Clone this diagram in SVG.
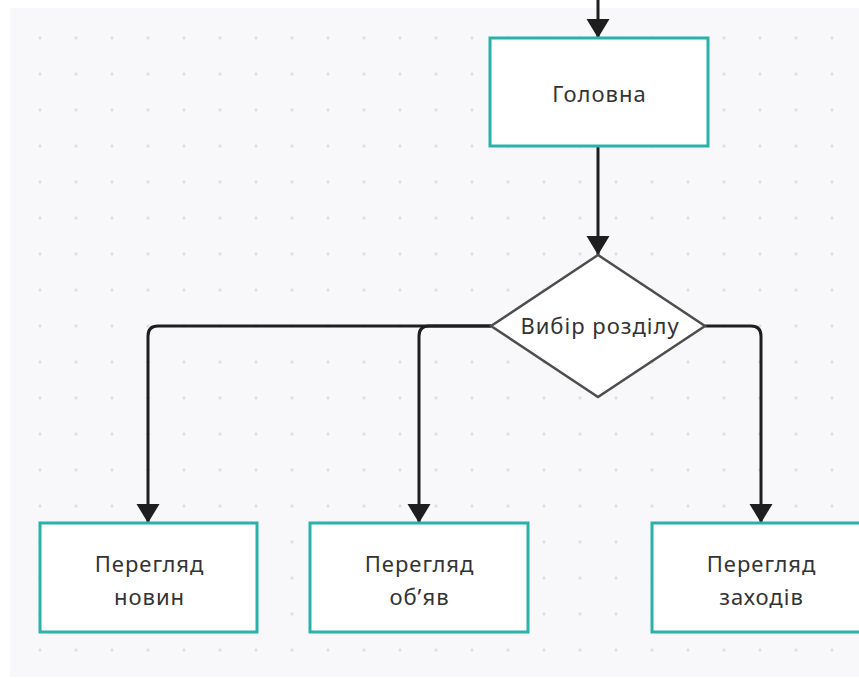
<svg xmlns="http://www.w3.org/2000/svg" width="859" height="678" viewBox="0 0 859 678">
<style>
.box{fill:#fff;stroke:#2bb1aa;stroke-width:3}
.dec{fill:#fff;stroke:#4d4d4d;stroke-width:2.5}
.lbl{font-family:"Noto Sans","Open Sans",sans-serif;font-size:22px;letter-spacing:1px;fill:#333;text-anchor:middle}
.con{fill:none;stroke:#1e1e1e;stroke-width:3}
</style>
<defs>
<pattern id="dots" x="22" y="20" width="36" height="36" patternUnits="userSpaceOnUse">
<circle cx="18" cy="18" r="1.7" fill="#dfdfe3"/>
</pattern>
<marker id="arr" markerUnits="userSpaceOnUse" markerWidth="24" markerHeight="24" refX="20" refY="12" orient="auto">
<path d="M1,0.5 L20,12 L1,23.5 Z" fill="#1e1e1e"/>
</marker>
</defs>
<rect x="10" y="8" width="849" height="669" fill="#f8f8fa"/>
<rect x="10" y="8" width="849" height="669" fill="url(#dots)"/>
<g id="connectors">
<path class="con" d="M598,0 V38" marker-end="url(#arr)"/>
<path class="con" d="M598,146 V255" marker-end="url(#arr)"/>
<path class="con" d="M491,326 H158 Q148,326 148,336 V523" marker-end="url(#arr)"/>
<path class="con" d="M491,326 H429 Q419,326 419,336 V523" marker-end="url(#arr)"/>
<path class="con" d="M705,326 H751 Q761,326 761,336 V523" marker-end="url(#arr)"/>
</g>
<g id="golovna">
<rect class="box" x="490" y="38" width="218" height="108"/>
<text class="lbl" x="599.5" y="102">Головна</text>
</g>
<g id="vybir">
<polygon class="dec" points="598,255 705,326 598,397 491,326"/>
<text class="lbl" x="600" y="334">Вибір розділу</text>
</g>
<g id="novyny">
<rect class="box" x="40" y="523" width="217" height="109"/>
<text class="lbl" x="149.5" y="572">Перегляд</text>
<text class="lbl" x="149.5" y="605">новин</text>
</g>
<g id="obyavy">
<rect class="box" x="310" y="523" width="218" height="109"/>
<text class="lbl" x="419.5" y="572">Перегляд</text>
<text class="lbl" x="419.5" y="605">об’яв</text>
</g>
<g id="zakhody">
<rect class="box" x="652" y="523" width="218" height="109"/>
<text class="lbl" x="761.5" y="572">Перегляд</text>
<text class="lbl" x="761.5" y="605">заходів</text>
</g>
</svg>
